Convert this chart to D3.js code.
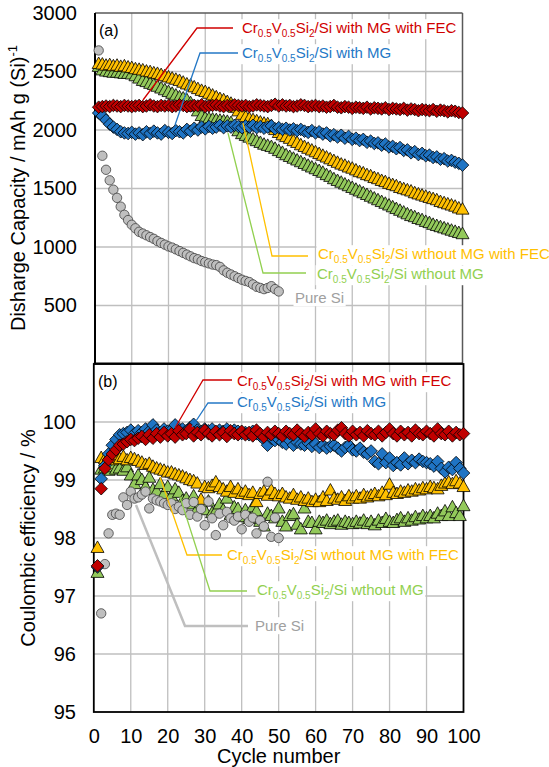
<!DOCTYPE html>
<html>
<head>
<meta charset="utf-8">
<script src="https://cdn.jsdelivr.net/npm/d3@7"></script>
<style>
  body { margin: 0; background: #fff; }
  svg { display: block; font-family: "Liberation Sans", Arial, sans-serif; }
</style>
</head>
<body>
<svg id="chart" width="549" height="767"></svg>
<script>
// ---- data ----
const capTicks = [500, 1000, 1500, 2000, 2500, 3000];
const ceTicks = [95, 96, 97, 98, 99, 100];
const cycleTicks = [0, 10, 20, 30, 40, 50, 60, 70, 80, 90, 100];

// (a) discharge capacity, mAh g(Si)^-1, cycles 1..100
const capRed = [
  2195, 2200, 2205, 2200, 2210, 2205, 2200, 2210, 2205, 2200,
  2205, 2210, 2200, 2205, 2215, 2205, 2200, 2210, 2205, 2210,
  2200, 2205, 2215, 2210, 2200, 2205, 2210, 2205, 2215, 2200,
  2205, 2210, 2215, 2205, 2200, 2210, 2205, 2215, 2210, 2205,
  2210, 2200, 2205, 2215, 2210, 2205, 2200, 2210, 2220, 2205,
  2215, 2205, 2210, 2200, 2205, 2215, 2210, 2200, 2205, 2210,
  2200, 2205, 2195, 2200, 2210, 2195, 2190, 2200, 2195, 2185,
  2195, 2190, 2185, 2195, 2180, 2190, 2185, 2180, 2190, 2175,
  2185, 2180, 2175, 2185, 2170, 2180, 2175, 2165, 2175, 2170,
  2165, 2175, 2160, 2170, 2165, 2155, 2165, 2160, 2150, 2145
];
const capBlue = [
  2145, 2120, 2085, 2050, 2025, 2005, 1985, 1975, 1970, 1980,
  1965, 1975, 1960, 1985, 1970, 1990, 1975, 1965, 1995, 1980,
  1970, 1995, 1985, 1975, 2005, 1990, 2015, 2000, 2025, 2010,
  2030, 2015, 2025, 2040, 2020, 2035, 2025, 2040, 2030, 2020,
  2035, 2025, 2040, 2020, 2030, 2015, 2025, 2035, 2010, 2020,
  2005, 2015, 2000, 2010, 1995, 2005, 1990, 1980, 1995, 1975,
  1985, 1965, 1975, 1950, 1960, 1940, 1955, 1930, 1945, 1920,
  1930, 1910, 1920, 1895, 1905, 1885, 1890, 1870, 1880, 1855,
  1860, 1840, 1850, 1825, 1830, 1805, 1815, 1790, 1800, 1780,
  1785, 1765, 1770, 1750, 1755, 1735, 1740, 1725, 1715, 1700
];
const capYellow = [
  2575, 2570, 2560, 2565, 2555, 2560, 2550, 2555, 2545, 2540,
  2530, 2525, 2520, 2510, 2505, 2495, 2490, 2480, 2470, 2460,
  2450, 2440, 2430, 2415, 2400, 2390, 2375, 2360, 2345, 2335,
  2320, 2305, 2290, 2275, 2265, 2250, 2235, 2200, 2170, 2140,
  2120, 2105, 2095, 2085, 2075, 2065, 2060, 2045, 2010, 1985,
  1965, 1950, 1935, 1915, 1900, 1880, 1865, 1850, 1835, 1820,
  1805, 1790, 1775, 1760, 1745, 1730, 1715, 1705, 1690, 1680,
  1665, 1650, 1640, 1625, 1615, 1600, 1590, 1575, 1565, 1550,
  1540, 1530, 1515, 1505, 1495, 1485, 1470, 1460, 1450, 1440,
  1430, 1420, 1410, 1395, 1385, 1375, 1365, 1355, 1340, 1330
];
const capGreen = [
  2550, 2520, 2510, 2505, 2500, 2500, 2495, 2490, 2490, 2485,
  2470, 2450, 2430, 2420, 2405, 2395, 2380, 2365, 2350, 2335,
  2320, 2305, 2290, 2280, 2265, 2240, 2210, 2170, 2130, 2110,
  2105, 2100, 2095, 2090, 2085, 2080, 2070, 2040, 2000, 1975,
  1960, 1945, 1930, 1915, 1900, 1885, 1875, 1865, 1850, 1830,
  1815, 1795, 1780, 1765, 1750, 1735, 1720, 1705, 1690, 1675,
  1660, 1645, 1625, 1610, 1590, 1575, 1560, 1545, 1530, 1515,
  1500, 1485, 1470, 1455, 1440, 1425, 1410, 1395, 1380, 1365,
  1350, 1335, 1320, 1305, 1290, 1275, 1265, 1250, 1240, 1225,
  1215, 1200, 1190, 1180, 1170, 1160, 1150, 1140, 1130, 1120
];
// pure Si, cycles 1..50
const capPureSi = [
  2680, 1780, 1660, 1570, 1490, 1420, 1345, 1275, 1230, 1190,
  1160, 1130, 1115, 1100, 1085, 1070, 1050, 1035, 1020, 1005,
  995, 980, 965, 950, 935, 920, 905, 895, 880, 870,
  860, 850, 845, 830, 800, 780, 765, 750, 735, 720,
  710, 700, 680, 660, 650, 640, 650, 665, 640, 620
];

// (b) coulombic efficiency, %
const ceRed = [
  97.52, 98.85, 99.2, 99.35, 99.45, 99.52, 99.6, 99.62, 99.66, 99.7,
  99.68, 99.72, 99.75, 99.7, 99.78, 99.72, 99.8, 99.74, 99.82, 99.76,
  99.8, 99.74, 99.85, 99.78, 99.8, 99.88, 99.76, 99.82, 99.78, 99.86,
  99.8, 99.76, 99.84, 99.78, 99.82, 99.75, 99.85, 99.8, 99.78, 99.84,
  99.78, 99.82, 99.76, 99.86, 99.8, 99.74, 99.82, 99.78, 99.84, 99.8,
  99.76, 99.84, 99.8, 99.78, 99.86, 99.8, 99.75, 99.82, 99.78, 99.88,
  99.8, 99.76, 99.84, 99.8, 99.78, 99.86, 99.9, 99.8, 99.76, 99.84,
  99.78, 99.82, 99.76, 99.85, 99.8, 99.78, 99.84, 99.76, 99.82, 99.88,
  99.8, 99.76, 99.84, 99.78, 99.82, 99.76, 99.86, 99.8, 99.78, 99.84,
  99.8, 99.76, 99.88, 99.8, 99.78, 99.84, 99.76, 99.82, 99.78, 99.8
];
const ceBlue = [
  97.5, 99.02, 99.25, 99.45, 99.6, 99.7, 99.78, 99.8, 99.82, 99.86,
  99.8, 99.85, 99.82, 99.88, 99.84, 99.95, 99.86, 99.82, 99.88, 99.84,
  99.86, 99.95, 99.84, 99.88, 99.85, 99.9, 99.96, 99.86, 99.84, 99.88,
  99.85, 99.88, 99.82, 99.86, 99.84, 99.88, 99.82, 99.86, 99.84, 99.8,
  99.82, 99.78, 99.84, 99.8, 99.76, 99.7, 99.6, 99.72, 99.68, 99.7,
  99.65, 99.62, 99.68, 99.6, 99.65, 99.62, 99.6, 99.64, 99.58, 99.62,
  99.56, 99.6, 99.55, 99.58, 99.6, 99.55, 99.5, 99.56, 99.6, 99.52,
  99.5, 99.55, 99.48, 99.45, 99.5, 99.32, 99.28, 99.45, 99.3, 99.38,
  99.25, 99.3, 99.26, 99.38, 99.28, 99.34, 99.3, 99.36, 99.32, 99.3,
  99.28, 99.24, 99.32, 99.2, 99.14, 99.22, 99.18, 99.3, 99.2, 99.12
];
const ceYellow = [
  97.85, 99.4, 99.38, 99.42, 99.36, 99.4, 99.38, 99.42, 99.36, 99.4,
  99.38, 99.35, 99.32, 99.28, 99.3, 99.25, 99.22, 99.2, 99.18, 99.15,
  99.15, 99.12, 99.1, 99.08, 99.05, 99.02, 99.0, 98.96, 98.68, 98.9,
  98.88, 98.92, 98.98, 98.9, 98.86, 98.82, 98.9, 98.8, 98.86, 98.78,
  98.82, 98.76, 98.8, 98.64, 98.78, 98.82, 98.75, 98.84, 98.78, 98.74,
  98.78, 98.72, 98.7, 98.76, 98.68, 98.72, 98.66, 98.7, 98.64, 98.68,
  98.64, 98.72, 98.66, 98.84, 98.7, 98.68, 98.72, 98.66, 98.74, 98.7,
  98.74, 98.7, 98.76, 98.72, 98.75, 98.78, 98.74, 98.8, 98.76, 98.94,
  98.8, 98.78, 98.82, 98.8, 98.84, 98.82, 98.86, 98.84, 98.88, 98.86,
  98.9, 98.88, 98.86, 98.92, 98.96, 98.98, 98.95, 99.0, 98.96, 98.9
];
const ceGreen = [
  97.42, 99.2, 99.22, 99.18, 99.24, 99.2, 99.22, 99.18, 99.24, 99.1,
  98.95, 99.1, 99.02, 98.9, 99.06, 98.85, 98.82, 98.95, 98.78, 98.9,
  98.74, 98.86, 98.8, 98.66, 98.7, 98.6, 98.74, 98.52, 98.62, 98.5,
  98.65, 98.45, 98.48, 98.6, 98.5, 98.7, 98.42, 98.55, 98.52, 98.38,
  98.5, 98.35, 98.55, 98.48, 98.3, 98.22, 98.44, 98.4, 98.36, 98.53,
  98.3, 98.22, 98.4, 98.43, 98.25, 98.17, 98.53, 98.3, 98.28, 98.17,
  98.3, 98.28, 98.32, 98.26, 98.3, 98.32, 98.25, 98.3, 98.28, 98.26,
  98.3, 98.27, 98.32, 98.26, 98.3, 98.24, 98.32, 98.28, 98.35, 98.3,
  98.28, 98.33, 98.36, 98.3, 98.36, 98.32, 98.38, 98.34, 98.4, 98.36,
  98.4, 98.36, 98.44, 98.4, 98.48, 98.4, 98.55, 98.45, 98.4, 98.57
];
// pure Si, cycles 1..50 (cycle 1 is below the axis range)
const cePureSi = [
  null, 96.7, 97.55, 98.08, 98.4, 98.42, 98.4, 98.7, 98.57, 98.8,
  98.68, 98.7, 98.75, 98.8, 98.51, 98.68, 98.65, 98.63, 98.6, 98.57,
  98.6, 98.5, 98.54, 98.48, 98.6, 98.4, 98.62, 98.37, 98.5, 98.22,
  98.63, 98.34, 98.05, 98.42, 98.22, 98.45, 98.34, 98.3, 98.37, 98.15,
  98.4, 98.28, 98.35, 98.08, 98.3, 98.2, 98.97, 98.02, 98.35, 98.0
];

// ---- colours ----
const C = {
  red: "#C00000", blue: "#1F74C4", yellow: "#FFC000", green: "#93C95B", gray: "#BFBFBF",
  redTxt: "#D00000", blueTxt: "#2478C6", yellowTxt: "#FFC000", greenTxt: "#92D050", grayTxt: "#A0A0A0",
  grid: "#BFBFBF"
};

const svg = d3.select("#chart");

// panel scales
const xA = d3.scaleLinear().domain([0, 100]).range([95, 462.5]);
const yA = d3.scaleLinear().domain([0, 3000]).range([364, 13]);
const xB = d3.scaleLinear().domain([0, 100]).range([93.8, 463.5]);
const yB = d3.scaleLinear().domain([95, 101]).range([712, 364]);

const diamond = r => `M0,${-r}L${r},0L0,${r}L${-r},0Z`;
const triangle = (w, h) => `M0,${-h / 2}L${w / 2},${h / 2}L${-w / 2},${h / 2}Z`;

const MK = {
  red: { d: diamond(6.3), fill: C.red, stroke: "#000" },
  blue: { d: diamond(6.3), fill: C.blue, stroke: "#000" },
  yellow: { d: triangle(13, 11.5), fill: C.yellow, stroke: "#000" },
  green: { d: triangle(13, 11.5), fill: C.green, stroke: "#000" },
  gray: { circle: 4.7, fill: C.gray, stroke: "#404040" }
};

function grid(g, xs, ys, yVals, xVals) {
  const gg = g.append("g").attr("class", "grid");
  gg.selectAll("line.h").data(yVals).join("line")
    .attr("x1", xs.range()[0]).attr("x2", xs.range()[1])
    .attr("y1", d => ys(d)).attr("y2", d => ys(d))
    .attr("stroke", C.grid).attr("stroke-width", 1.3);
  gg.selectAll("line.v").data(xVals).join("line")
    .attr("x1", d => xs(d)).attr("x2", d => xs(d))
    .attr("y1", ys.range()[0]).attr("y2", ys.range()[1])
    .attr("stroke", C.grid).attr("stroke-width", 1.3);
}

function series(g, xs, ys, values, mk) {
  const pts = values.map((v, i) => ({ c: i + 1, v })).filter(d => d.v != null);
  const sg = g.append("g");
  if (mk.circle) {
    sg.selectAll("circle").data(pts).join("circle")
      .attr("cx", d => xs(d.c)).attr("cy", d => ys(d.v)).attr("r", mk.circle)
      .attr("fill", mk.fill).attr("stroke", mk.stroke).attr("stroke-width", 0.8);
  } else {
    sg.selectAll("path").data(pts).join("path")
      .attr("transform", d => `translate(${xs(d.c)},${ys(d.v)})`)
      .attr("d", mk.d)
      .attr("fill", mk.fill).attr("stroke", mk.stroke).attr("stroke-width", 0.8);
  }
}

// label text pieces: [text, isSubscript]
const lblFEC = [["Cr", 0], ["0.5", 1], ["V", 0], ["0.5", 1], ["Si", 0], ["2", 1], ["/Si with MG with FEC", 0]];
const lblMG = [["Cr", 0], ["0.5", 1], ["V", 0], ["0.5", 1], ["Si", 0], ["2", 1], ["/Si with MG", 0]];
const lblNoMGFEC = [["Cr", 0], ["0.5", 1], ["V", 0], ["0.5", 1], ["Si", 0], ["2", 1], ["/Si wthout MG with FEC", 0]];
const lblNoMG = [["Cr", 0], ["0.5", 1], ["V", 0], ["0.5", 1], ["Si", 0], ["2", 1], ["/Si wthout MG", 0]];
const lblSi = [["Pure Si", 0]];

function label(g, x, yc, parts, color) {
  const lg = g.append("g");
  const rect = lg.append("rect").attr("fill", "#fff");
  const t = lg.append("text").attr("x", x).attr("y", yc + 5.2)
    .attr("font-size", 15).attr("fill", color);
  let shift = 0;
  parts.forEach(([s, sub]) => {
    const want = sub ? 4 : 0;
    t.append("tspan").attr("dy", want - shift).attr("font-size", sub ? 10 : 15).text(s);
    shift = want;
  });
  const bb = t.node().getBBox();
  rect.attr("x", bb.x - 1.5).attr("y", bb.y).attr("width", bb.width + 3).attr("height", bb.height);
}

function leader(g, pts, color, w) {
  g.append("path").attr("d", d3.line()(pts)).attr("fill", "none")
    .attr("stroke", color).attr("stroke-width", w || 1.3);
}

function styleAxis(s) {
  s.select(".domain").remove();
  s.selectAll("text").attr("font-size", 20).attr("fill", "#000").attr("font-family", null);
}

// ===== panel (a) =====
const gA = svg.append("g");
grid(gA, xA, yA, [500, 1000, 1500, 2000, 2500], [10, 20, 30, 40, 50, 60, 70, 80, 90]);

// frame
gA.append("line").attr("x1", xA(0)).attr("x2", xA(100)).attr("y1", yA(3000)).attr("y2", yA(3000)).attr("stroke", "#595959").attr("stroke-width", 1.5);
gA.append("line").attr("x1", xA(100)).attr("x2", xA(100)).attr("y1", yA(3000)).attr("y2", yA(0)).attr("stroke", "#595959").attr("stroke-width", 1.5);
gA.append("line").attr("x1", xA(0)).attr("x2", xA(0)).attr("y1", yA(3000)).attr("y2", yA(0)).attr("stroke", "#000").attr("stroke-width", 2);

const yAxisA = d3.axisLeft(yA).tickValues(capTicks).tickFormat(d3.format("d")).tickSize(0).tickPadding(0);
gA.append("g").attr("transform", "translate(77,0)").call(yAxisA).call(styleAxis);

gA.append("text").attr("transform", "translate(25,188) rotate(-90)")
  .attr("text-anchor", "middle").attr("font-size", 20).attr("fill", "#000")
  .call(t => {
    t.append("tspan").text("Disharge Capacity / mAh g (Si)");
    t.append("tspan").attr("font-size", 13).attr("dy", -8).text("-1");
  });

gA.append("text").attr("x", 99).attr("y", 36).attr("font-size", 16).attr("fill", "#000").text("(a)");

series(gA, xA, yA, capGreen, MK.green);
series(gA, xA, yA, capYellow, MK.yellow);
series(gA, xA, yA, capPureSi, MK.gray);
series(gA, xA, yA, capBlue, MK.blue);
series(gA, xA, yA, capRed, MK.red);

// annotations (pixel layout)
leader(gA, [[143, 100], [197, 28], [233, 28]], C.redTxt);
leader(gA, [[175, 125], [200, 53], [238, 53]], C.blueTxt);
leader(gA, [[243, 123], [272, 256], [308, 256]], C.yellowTxt);
leader(gA, [[228, 133], [263, 273], [306, 273]], C.greenTxt);
label(gA, 242, 28, lblFEC, C.redTxt);
label(gA, 242, 53, lblMG, C.blueTxt);
label(gA, 318, 254, lblNoMGFEC, C.yellowTxt);
label(gA, 317, 274, lblNoMG, C.greenTxt);
label(gA, 295, 298, lblSi, C.grayTxt);

// ===== panel (b) =====
const gB = svg.append("g");
grid(gB, xB, yB, [96, 97, 98, 99, 100], [10, 20, 30, 40, 50, 60, 70, 80, 90]);

gB.append("rect").attr("x", xB(0)).attr("y", yB(101)).attr("width", xB(100) - xB(0)).attr("height", yB(95) - yB(101))
  .attr("fill", "none").attr("stroke", "#000").attr("stroke-width", 1.8);
// bottom line of panel (a) / top of panel (b)
svg.append("line").attr("x1", xB(0)).attr("x2", xA(100)).attr("y1", 363.5).attr("y2", 363.5).attr("stroke", "#000").attr("stroke-width", 2);

const yAxisB = d3.axisLeft(yB).tickValues(ceTicks).tickFormat(d3.format("d")).tickSize(0).tickPadding(0);
gB.append("g").attr("transform", "translate(76,0)").call(yAxisB).call(styleAxis);

const xAxisB = d3.axisBottom(xB).tickValues(cycleTicks).tickFormat(d3.format("d")).tickSize(0).tickPadding(0);
gB.append("g").attr("transform", "translate(0,728.8)").call(xAxisB).call(styleAxis);

gB.append("text").attr("x", (xB(0) + xB(100)) / 2).attr("y", 763)
  .attr("text-anchor", "middle").attr("font-size", 20).attr("fill", "#000").text("Cycle number");

gB.append("text").attr("transform", "translate(35,538) rotate(-90)")
  .attr("text-anchor", "middle").attr("font-size", 20).attr("fill", "#000")
  .text("Coulombic efficiency / %");

gB.append("text").attr("x", 98).attr("y", 387).attr("font-size", 16).attr("fill", "#000").text("(b)");

series(gB, xB, yB, ceGreen, MK.green);
series(gB, xB, yB, ceYellow, MK.yellow);
series(gB, xB, yB, cePureSi, MK.gray);
series(gB, xB, yB, ceBlue, MK.blue);
series(gB, xB, yB, ceRed, MK.red);

leader(gB, [[175, 428], [203, 380], [232, 380]], C.redTxt);
leader(gB, [[192, 427], [208, 403], [233, 403]], C.blueTxt);
leader(gB, [[160, 477], [187, 555], [222, 555]], C.yellowTxt);
leader(gB, [[180, 497], [210, 591], [247, 591]], C.greenTxt);
leader(gB, [[136, 505], [185, 626], [248, 626]], C.gray, 2.5);
label(gB, 237, 381, lblFEC, C.redTxt);
label(gB, 237, 402, lblMG, C.blueTxt);
label(gB, 227, 555, lblNoMGFEC, C.yellowTxt);
label(gB, 257, 590, lblNoMG, C.greenTxt);
label(gB, 255, 626, lblSi, C.grayTxt);
</script>
</body>
</html>
